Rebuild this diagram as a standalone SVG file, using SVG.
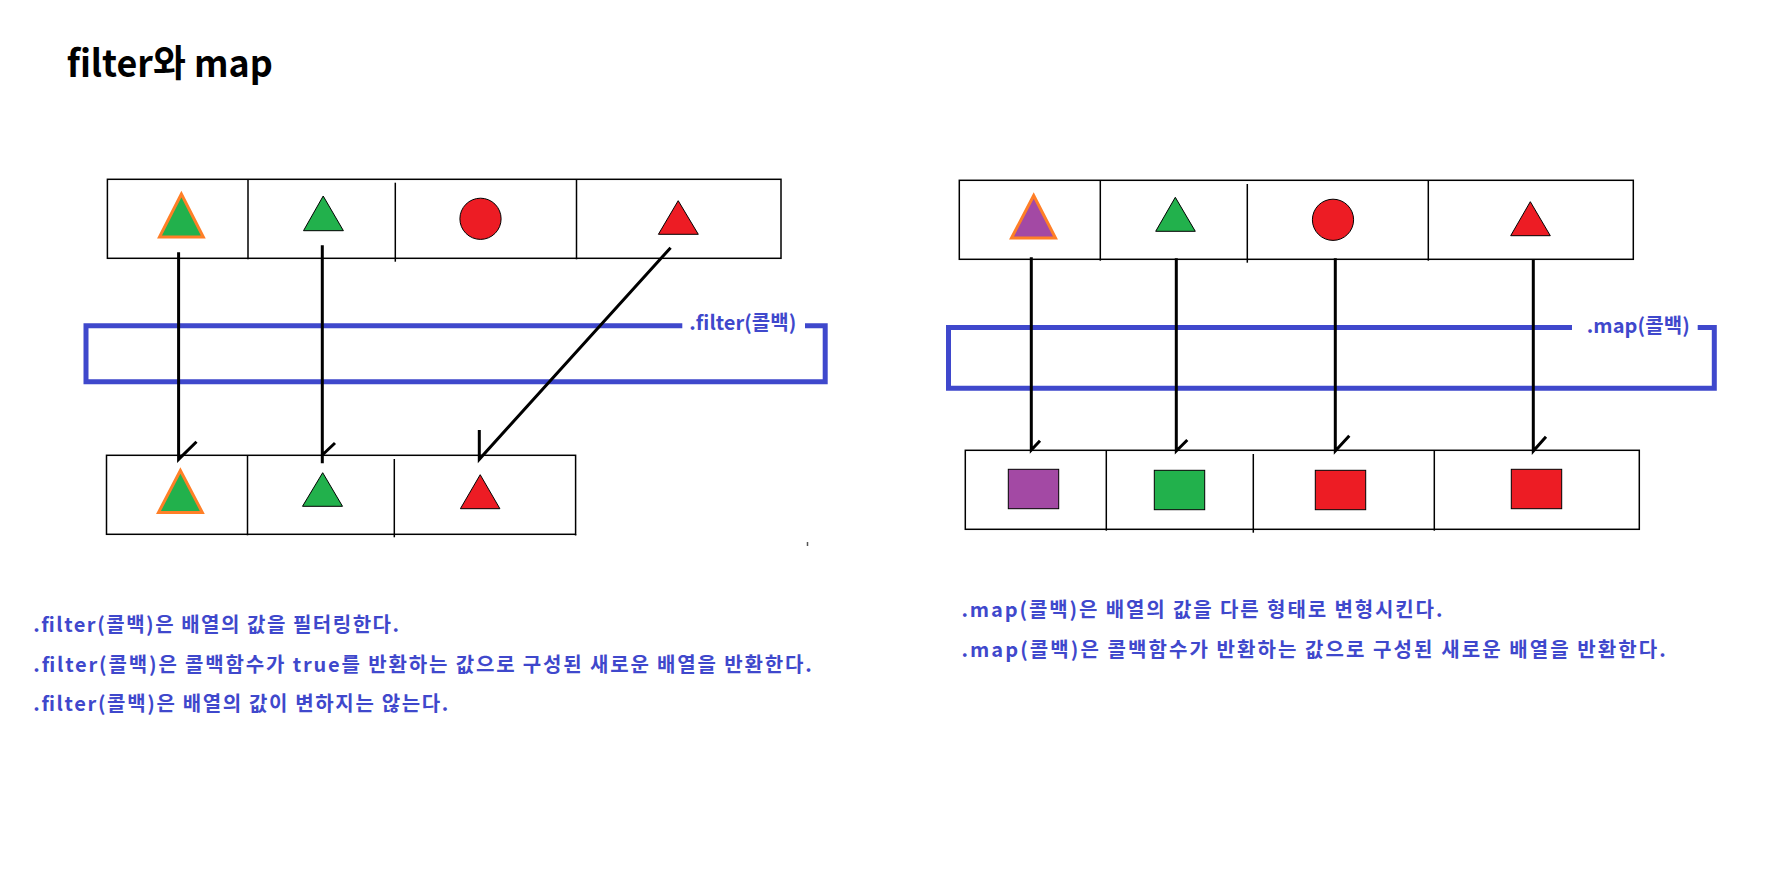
<svg xmlns="http://www.w3.org/2000/svg" width="1766" height="874" viewBox="0 0 1766 874">
<style>
  .t { font-family: "Noto Sans CJK KR", "Noto Sans", sans-serif; font-weight: 700; }
  .title { font-size: 37px; fill: #000000; }
  .note { font-size: 20px; fill: #3f48cc; }
  .lbl { font-size: 20px; fill: #3f48cc; }
  .box { fill: none; stroke: #000000; stroke-width: 1.5; }
  .div { stroke: #000000; stroke-width: 1.5; }
  .op { fill: none; stroke: #3f48cc; stroke-width: 5; }
  .g { fill: #22b14c; stroke: #000000; stroke-width: 1; }
  .r { fill: #ed1c24; stroke: #000000; stroke-width: 1; }
  .p { fill: #a349a4; stroke: #000000; stroke-width: 1; }
  .go { fill: #22b14c; stroke: #ff7f27; stroke-width: 3; }
  .po { fill: #a349a4; stroke: #ff7f27; stroke-width: 3; }
  .c { fill: none; stroke: #000000; stroke-width: 3; }
</style>
<rect width="1766" height="874" fill="#ffffff"/>

<g id="title">
  <text class="t title" x="66.7" y="76.7" textLength="206" lengthAdjust="spacingAndGlyphs">filter와 map</text>
</g>

<g id="filter-box">
  <path class="op" d="M 682.3 325.7 H 86 V 381.7 H 825.2 V 325.7 H 805"/>
  <text class="t lbl" x="689.3" y="329.5" textLength="107" lengthAdjust="spacing">.filter(콜백)</text>
</g>

<g id="map-box">
  <path class="op" d="M 1572 327.5 H 948.5 V 388.2 H 1714.3 V 327.5 H 1697.7"/>
  <text class="t lbl" x="1586.7" y="333" textLength="103" lengthAdjust="spacing">.map(콜백)</text>
</g>

<g id="filter-input">
  <rect class="box" x="107.4" y="179.3" width="673.6" height="79"/>
  <line class="div" x1="248" y1="179.3" x2="248" y2="259.3"/>
  <line class="div" x1="395.3" y1="182.7" x2="395.3" y2="261.7"/>
  <line class="div" x1="576.5" y1="179.3" x2="576.5" y2="259.3"/>
  <polygon class="go" points="181.4,194 159.5,237 203.3,237"/>
  <polygon class="g" points="323.2,196 303.5,230.7 343.4,230.7"/>
  <circle class="r" cx="480.5" cy="218.8" r="20.6"/>
  <polygon class="r" points="678.2,200.7 658.4,234.3 698.3,234.3"/>
</g>

<g id="filter-output">
  <rect class="box" x="106.5" y="455.3" width="469.1" height="79"/>
  <line class="div" x1="247.5" y1="455.3" x2="247.5" y2="535.3"/>
  <line class="div" x1="394.3" y1="459" x2="394.3" y2="537.3"/>
  <line class="div" x1="575.6" y1="534.3" x2="575.6" y2="535.5"/>
  <polygon class="go" points="180.4,470.5 158.5,512.5 202.3,512.5"/>
  <polygon class="g" points="322.7,472.7 302.5,506.3 342.5,506.3"/>
  <polygon class="r" points="480.2,474.7 460.4,508.7 499.9,508.7"/>
  <line x1="807.5" y1="542" x2="807.5" y2="546" stroke="#555555" stroke-width="1.5"/>
</g>

<g id="map-input">
  <rect class="box" x="959.3" y="180.3" width="674" height="79"/>
  <line class="div" x1="1100.3" y1="180.3" x2="1100.3" y2="260.7"/>
  <line class="div" x1="1247.3" y1="184" x2="1247.3" y2="262.7"/>
  <line class="div" x1="1428.3" y1="180.3" x2="1428.3" y2="260.7"/>
  <polygon class="po" points="1033.7,195.5 1011.5,238 1055.5,238"/>
  <polygon class="g" points="1175.3,197.3 1155.7,231.3 1195.3,231.3"/>
  <circle class="r" cx="1333" cy="219.8" r="20.6"/>
  <polygon class="r" points="1530.3,201.7 1510.7,235.7 1550.3,235.7"/>
</g>

<g id="map-output">
  <rect class="box" x="965.3" y="450.3" width="674" height="79"/>
  <line class="div" x1="1106.3" y1="450.3" x2="1106.3" y2="530.7"/>
  <line class="div" x1="1253.3" y1="454" x2="1253.3" y2="532.7"/>
  <line class="div" x1="1434.3" y1="450.3" x2="1434.3" y2="530.7"/>
  <rect class="p" x="1008.3" y="469.3" width="50.4" height="39.4"/>
  <rect class="g" x="1154.3" y="470.3" width="50.4" height="39.4"/>
  <rect class="r" x="1315.3" y="470.3" width="50.4" height="39.4"/>
  <rect class="r" x="1511.3" y="469.3" width="50.4" height="39.4"/>
</g>

<g id="connectors">
  <path class="c" d="M 178.6 252.3 V 459.3 L 196.5 441.7"/>
  <path class="c" d="M 322.3 245.3 V 463.3 M 322.3 455 L 335 443"/>
  <path class="c" d="M 670.6 247.7 L 479.3 459.3 V 430"/>
  <path class="c" d="M 1031.3 257.3 V 450 L 1040 440.7"/>
  <path class="c" d="M 1176.3 258.3 V 451 L 1187.3 440"/>
  <path class="c" d="M 1335.3 258.3 V 451 L 1349.3 435.7"/>
  <path class="c" d="M 1533.3 260 V 451 L 1546 436.7"/>
</g>

<g id="filter-notes">
  <text class="t note" x="33.3" y="632" textLength="365.7" lengthAdjust="spacing">.filter(콜백)은 배열의 값을 필터링한다.</text>
  <text class="t note" x="33.3" y="671.5" textLength="778.4" lengthAdjust="spacing">.filter(콜백)은 콜백함수가 true를 반환하는 값으로 구성된 새로운 배열을 반환한다.</text>
  <text class="t note" x="33.3" y="711.3" textLength="415" lengthAdjust="spacing">.filter(콜백)은 배열의 값이 변하지는 않는다.</text>
</g>

<g id="map-notes">
  <text class="t note" x="961.4" y="616.5" textLength="481" lengthAdjust="spacing">.map(콜백)은 배열의 값을 다른 형태로 변형시킨다.</text>
  <text class="t note" x="961.4" y="656.5" textLength="704.3" lengthAdjust="spacing">.map(콜백)은 콜백함수가 반환하는 값으로 구성된 새로운 배열을 반환한다.</text>
</g>
</svg>
